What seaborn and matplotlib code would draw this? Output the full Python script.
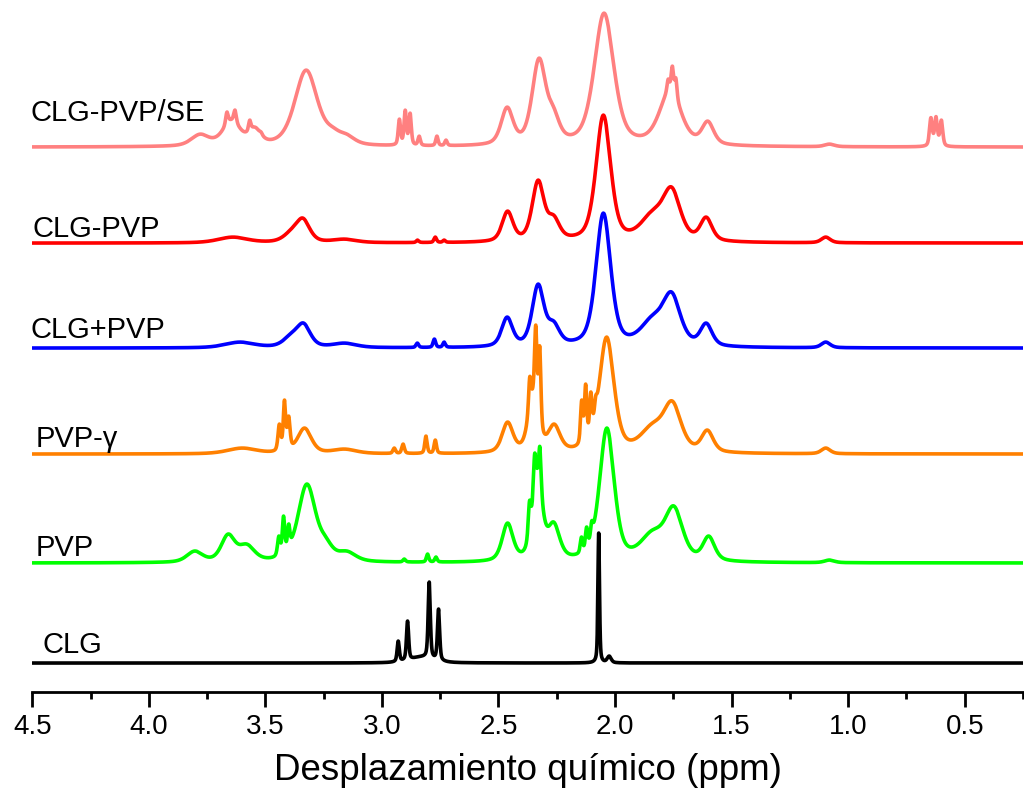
import numpy as np
import pandas as pd
import matplotlib
matplotlib.use("Agg")
import matplotlib.pyplot as plt
import seaborn as sns
from matplotlib.ticker import MultipleLocator

# espectros de abajo hacia arriba
samples = ["CLG", "PVP", "PVP-γ", "CLG+PVP", "CLG-PVP", "CLG-PVP/SE"]
colors = ["#000000", "#00FF00", "#FF8000", "#0000FF", "#FF0000", "#FF8080"]
offsets = [29, 129, 238, 344, 449, 545]

# posiciones de las etiquetas (ppm, intensidad)
label_ppm = [4.458, 4.484, 4.484, 4.5056, 4.497, 4.5056]
label_y = [39, 136, 245, 354, 455, 571]

clg_ppm = [2.93, 2.89, 2.83, 2.797, 2.757, 2.07, 2.025]
clg_height = [22, 42, 7, 81, 54, 130, 7]
clg_fwhm = [0.011, 0.011, 0.12, 0.011, 0.011, 0.008, 0.02]

pvp_ppm = [3.803, 3.66, 3.58, 3.442, 3.422, 3.40, 3.322, 3.24, 3.15, 2.904, 2.804, 2.768,
           2.461, 2.367, 2.345, 2.333, 2.322, 2.263, 2.144, 2.122, 2.10, 2.035,
           1.84, 1.747, 1.598, 1.08]
pvp_height = [12, 29, 19, 27, 47, 39, 79, 26, 12, 4, 9, 6,
              40, 62, 109, 95, 116, 41, 26, 36, 42, 135,
              33, 57, 27, 3]
pvp_fwhm = [0.08, 0.07, 0.08, 0.014, 0.012, 0.012, 0.09, 0.07, 0.09, 0.013, 0.012, 0.012,
            0.055, 0.013, 0.012, 0.05, 0.012, 0.06, 0.012, 0.012, 0.012, 0.075,
            0.12, 0.09, 0.06, 0.05]

pvpg_ppm = [3.60, 3.44, 3.418, 3.40, 3.332, 3.16, 2.947, 2.909, 2.811, 2.771,
            2.461, 2.366, 2.352, 2.34, 2.323, 2.261, 2.143, 2.126, 2.104, 2.083, 2.036,
            1.84, 1.754, 1.604, 1.096]
pvpg_height = [6, 30, 54, 38, 26, 5, 6, 10, 18, 14,
               32, 77, 68, 129, 108, 30, 54, 70, 62, 58, 117,
               31, 53, 24, 6]
pvpg_fwhm = [0.15, 0.014, 0.012, 0.014, 0.07, 0.12, 0.013, 0.013, 0.012, 0.012,
             0.055, 0.012, 0.05, 0.012, 0.012, 0.06, 0.012, 0.012, 0.012, 0.012, 0.075,
             0.12, 0.09, 0.06, 0.045]

mix_ppm = [3.61, 3.39, 3.336, 3.16, 2.848, 2.775, 2.733, 2.463, 2.33, 2.263, 2.05,
           1.84, 1.757, 1.609, 1.096]
mix_height = [6, 15, 25, 5, 5, 9, 6, 31, 64, 27, 135, 33, 56, 25, 6]
mix_fwhm = [0.15, 0.08, 0.07, 0.12, 0.013, 0.013, 0.013, 0.055, 0.06, 0.06, 0.075,
            0.12, 0.09, 0.06, 0.045]

clgpvp_ppm = [3.64, 3.39, 3.339, 3.16, 2.847, 2.771, 2.733, 2.461, 2.33, 2.263, 2.05,
              1.84, 1.757, 1.609, 1.096]
clgpvp_height = [6, 14, 25, 4, 3, 6, 3, 32, 63, 28, 128, 33, 56, 26, 6]
clgpvp_fwhm = [0.15, 0.08, 0.07, 0.12, 0.013, 0.013, 0.013, 0.055, 0.06, 0.06, 0.075,
               0.12, 0.09, 0.06, 0.045]

se_ppm = [3.78, 3.645, 3.665, 3.63, 3.567, 3.545, 3.533, 3.518, 3.325, 3.21, 3.15,
          2.925, 2.90, 2.879, 2.84, 2.764, 2.725, 2.463, 2.326, 2.263, 2.047,
          1.772, 1.763, 1.754, 1.739, 1.602, 1.08, 0.645, 0.623, 0.60]
se_height = [13, 28, 35, 37, 27, 20, 18, 15, 77, 20, 13,
             28, 37, 34, 11, 11, 7, 40, 89, 40, 134,
             68, 66, 81, 69, 26, 3, 29.5, 30.5, 27]
se_fwhm = [0.09, 0.09, 0.013, 0.013, 0.012, 0.06, 0.012, 0.012, 0.115, 0.08, 0.08,
           0.012, 0.012, 0.012, 0.012, 0.012, 0.012, 0.06, 0.07, 0.06, 0.10,
           0.012, 0.11, 0.012, 0.012, 0.06, 0.05, 0.014, 0.014, 0.014]

peaks = [(clg_ppm, clg_height, clg_fwhm),
         (pvp_ppm, pvp_height, pvp_fwhm),
         (pvpg_ppm, pvpg_height, pvpg_fwhm),
         (mix_ppm, mix_height, mix_fwhm),
         (clgpvp_ppm, clgpvp_height, clgpvp_fwhm),
         (se_ppm, se_height, se_fwhm)]


def shape(x, c, w):
    # pseudo-Voigt de altura 1
    lor = 1.0 / (1.0 + ((x - c) / (w / 2)) ** 2)
    gau = np.exp(-4 * np.log(2) * ((x - c) / w) ** 2)
    return 0.5 * lor + 0.5 * gau


ppm = np.linspace(0.25, 4.5, 8501)
frames = []
for name, off, (c, h, w) in zip(samples, offsets, peaks):
    c = np.array(c); h = np.array(h, float); w = np.array(w)
    A = shape(c[:, None], c[None, :], w[None, :])
    amp = np.clip(np.linalg.lstsq(A, h, rcond=None)[0], 0, None)
    y = off + (amp[None, :] * shape(ppm[:, None], c[None, :], w[None, :])).sum(axis=1)
    frames.append(pd.DataFrame({"ppm": ppm, "intensidad": y, "muestra": name}))
df = pd.concat(frames, ignore_index=True)

sns.set_style("white")
plt.rcParams['font.family'] = ['Liberation Sans', 'DejaVu Sans']
plt.rcParams['text.color'] = 'black'
plt.rcParams['axes.labelcolor'] = 'black'
plt.rcParams['xtick.color'] = 'black'

fig = plt.figure(figsize=(10.24, 7.88), dpi=100)
ax = fig.add_axes([0.0315, 0.1218, 0.9675, 0.878])
sns.lineplot(data=df, x="ppm", y="intensidad", hue="muestra", hue_order=samples,
             palette=colors, estimator=None, sort=False, linewidth=2.6, legend=False, ax=ax)

for name, lx, ly in zip(samples, label_ppm, label_y):
    ax.text(lx, ly, name, fontsize=21, color='black', ha='left', va='baseline', clip_on=False)

ax.set_xlim(4.5, 0.25)
ax.set_ylim(0, 692)
ax.set_yticks([])
ax.set_ylabel("")
ax.set_xlabel("Desplazamiento químico (ppm)", fontsize=26.5, labelpad=9)
ax.xaxis.set_major_locator(MultipleLocator(0.5))
ax.xaxis.set_minor_locator(MultipleLocator(0.25))
ax.tick_params(axis='x', which='major', length=11, width=2, labelsize=20, pad=5,
               direction='out', bottom=True, colors='black')
ax.tick_params(axis='x', which='minor', length=5, width=2, direction='out', bottom=True)
for s in ['left', 'top', 'right']:
    ax.spines[s].set_visible(False)
ax.spines['bottom'].set_linewidth(2)
ax.spines['bottom'].set_color('black')

fig.savefig("out.png", dpi=100)
